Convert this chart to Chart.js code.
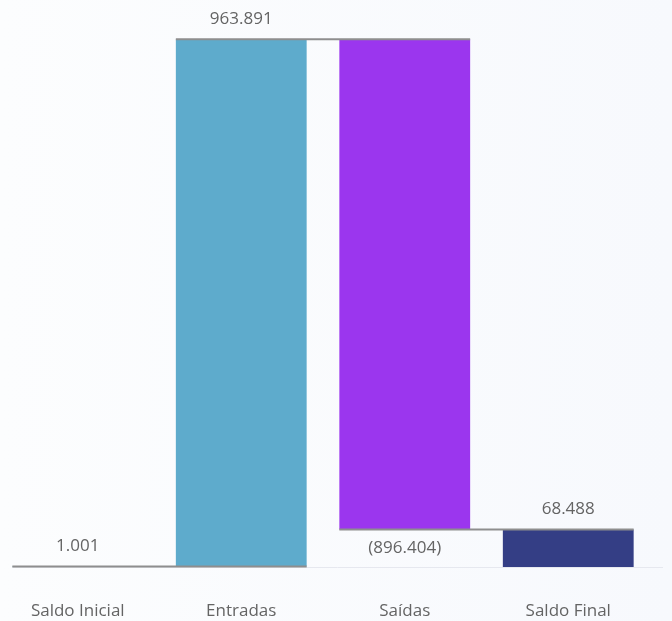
<!DOCTYPE html>
<html>
<head>
<meta charset="utf-8">
<script src="https://cdn.jsdelivr.net/npm/chart.js@4"></script>
<style>
  html, body { margin: 0; padding: 0; width: 672px; height: 621px; overflow: hidden;
    background: linear-gradient(to right, #fcfdfe, #f7f9fd); }
  #wrap { position: absolute; left: -4px; top: 0; width: 676px; height: 621px; }
</style>
</head>
<body>
<div id="wrap"><canvas id="fluxo"></canvas></div>
<script>
// Fluxo de caixa: saldo inicial, entradas, saídas e saldo final
const categorias = ['Saldo Inicial', 'Entradas', 'Saídas', 'Saldo Final'];
const valores = [1001, 963891, -896404, 68488];
const tipos = ['total', 'delta', 'delta', 'total'];
const cores = ['#5eabcc', '#5eabcc', '#9b36ee', '#343e85'];

// Build the floating [start, end] pairs of the waterfall
const faixas = [];
let acumulado = 0;
valores.forEach((v, i) => {
    if (tipos[i] === 'total') {
        faixas.push([0, v]);
        acumulado = v;
    } else {
        faixas.push([acumulado, acumulado + v]);
        acumulado += v;
    }
});

const fmt = new Intl.NumberFormat('pt-BR');
function rotulo(v) {
    return v < 0 ? '(' + fmt.format(-v) + ')' : fmt.format(v);
}

const FONTE = '"Open Sans", "Noto Sans", sans-serif';

// Baseline, connectors and value labels
const cascata = {
    id: 'cascata',
    beforeDatasetsDraw(chart) {
        const ctx = chart.ctx;
        const y0 = chart.scales.y.getPixelForValue(0);
        const barras = chart.getDatasetMeta(0).data;
        ctx.save();
        ctx.strokeStyle = '#e6e8ef';
        ctx.lineWidth = 1;
        ctx.beginPath();
        ctx.moveTo(barras[0].x - barras[0].width / 2, y0 + 0.5);
        ctx.lineTo(chart.width - 9, y0 + 0.5);
        ctx.stroke();
        ctx.restore();
    },
    afterDatasetsDraw(chart) {
        const ctx = chart.ctx;
        const ys = chart.scales.y;
        const barras = chart.getDatasetMeta(0).data;
        ctx.save();
        // connectors from each bar to the next one
        ctx.strokeStyle = '#8e8e8e';
        ctx.lineWidth = 2;
        for (let i = 0; i < barras.length - 1; i++) {
            const nivel = ys.getPixelForValue(faixas[i][1]);
            const a = barras[i], b = barras[i + 1];
            ctx.beginPath();
            ctx.moveTo(a.x - a.width / 2, nivel);
            ctx.lineTo(b.x + b.width / 2, nivel);
            ctx.stroke();
        }
        // value labels
        ctx.fillStyle = '#646464';
        ctx.font = '17px ' + FONTE;
        ctx.textAlign = 'center';
        ctx.textBaseline = 'middle';
        barras.forEach((bar, i) => {
            const v = valores[i];
            const topo = ys.getPixelForValue(Math.max(faixas[i][0], faixas[i][1]));
            const base = ys.getPixelForValue(Math.min(faixas[i][0], faixas[i][1]));
            const y = v < 0 ? base + 19 : topo - 20;
            ctx.fillText(rotulo(v), bar.x, y);
        });
        ctx.restore();
    }
};

const chart = new Chart(document.getElementById('fluxo'), {
    type: 'bar',
    data: {
        labels: categorias,
        datasets: [{
            data: faixas,
            backgroundColor: cores,
            borderWidth: 0,
            barPercentage: 0.8,
            categoryPercentage: 1
        }]
    },
    options: {
        responsive: true,
        maintainAspectRatio: false,
        animation: false,
        events: [],
        layout: { padding: { top: 20, right: 22, bottom: 3, left: 0 } },
        plugins: { legend: { display: false }, tooltip: { enabled: false } },
        scales: {
            x: {
                grid: { display: false, drawTicks: false },
                border: { display: false },
                ticks: { color: '#646464', font: { size: 17, family: FONTE }, padding: 34 },
                afterFit(scale) { scale.height = 51; }
            },
            y: {
                display: false,
                min: 0,
                max: 1000000
            }
        }
    },
    plugins: [cascata]
});
</script>
</body>
</html>
